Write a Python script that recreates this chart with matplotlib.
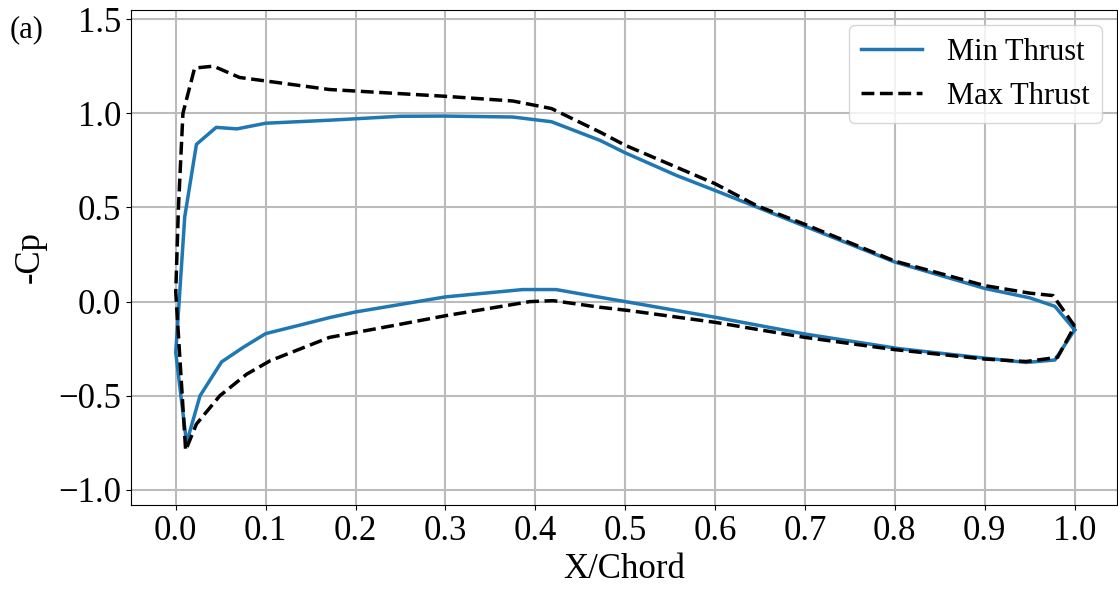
import matplotlib
matplotlib.use("Agg")
import matplotlib.pyplot as plt

plt.rcParams['font.family'] = ['Liberation Serif', 'DejaVu Serif']
plt.rcParams['mathtext.fontset'] = 'stix'

# Min Thrust: trailing edge -> upper surface -> leading edge -> lower surface -> trailing edge
x_min = [1.0, 0.978, 0.95, 0.9, 0.8, 0.7, 0.6, 0.557, 0.5, 0.472, 0.418, 0.375, 0.3, 0.25,
         0.171, 0.1, 0.068, 0.045, 0.023, 0.010, 0.0,
         0.012, 0.027, 0.051, 0.075, 0.1, 0.142, 0.171, 0.2, 0.3, 0.386, 0.423, 0.472,
         0.505, 0.6, 0.7, 0.805, 0.9, 0.946, 0.978, 1.0]
cp_min = [-0.15, -0.025, 0.02, 0.07, 0.21, 0.40, 0.59, 0.67, 0.79, 0.856, 0.955, 0.98, 0.985, 0.984,
          0.963, 0.947, 0.917, 0.925, 0.835, 0.45, -0.27,
          -0.75, -0.50, -0.32, -0.243, -0.17, -0.12, -0.085, -0.055, 0.025, 0.064, 0.064, 0.023,
          -0.004, -0.083, -0.172, -0.25, -0.30, -0.323, -0.31, -0.15]

# Max Thrust
x_max = [1.0, 0.976, 0.95, 0.9, 0.8, 0.7, 0.646, 0.6, 0.5, 0.472, 0.418, 0.375, 0.3, 0.171,
         0.071, 0.042, 0.021, 0.008, 0.003, 0.0,
         0.011, 0.023, 0.049, 0.079, 0.105, 0.171, 0.25, 0.3, 0.394, 0.42, 0.472, 0.505,
         0.6, 0.7, 0.8, 0.9, 0.946, 0.981, 1.0]
cp_max = [-0.13, 0.032, 0.045, 0.085, 0.215, 0.41, 0.51, 0.626, 0.83, 0.90, 1.025, 1.065, 1.09, 1.126,
          1.19, 1.25, 1.24, 1.0, 0.5, 0.05,
          -0.79, -0.65, -0.50, -0.385, -0.314, -0.19, -0.12, -0.075, 0.0, 0.005, -0.03, -0.048,
          -0.11, -0.19, -0.255, -0.305, -0.318, -0.296, -0.13]

x_ticks = [0.0, 0.1, 0.2, 0.3, 0.4, 0.5, 0.6, 0.7, 0.8, 0.9, 1.0]
y_ticks = [-1.0, -0.5, 0.0, 0.5, 1.0, 1.5]

fig = plt.figure(figsize=(11.18, 5.9), dpi=100)
ax = fig.add_axes([0.117, 0.144, 0.882, 0.839])

ax.plot(x_min, cp_min, color='#1f77b4', lw=2.5, label='Min Thrust')
ax.plot(x_max, cp_max, color='black', lw=2.5, ls='--', label='Max Thrust')

ax.set_xlim(-0.05, 1.047)
ax.set_ylim(-1.08, 1.548)
ax.set_xticks(x_ticks)
ax.set_yticks(y_ticks)
ax.tick_params(labelsize=25)
ax.grid(True, color='#bbbbbb', lw=1.5)
ax.set_xlabel('X/Chord', fontsize=25, labelpad=4)
ax.set_ylabel('-Cp', fontsize=25, labelpad=8)
ax.legend(loc='upper right', fontsize=22)

fig.text(0.009, 0.975, '(a)', fontsize=22, va='top', ha='left')

fig.savefig('out.png', dpi=100)
